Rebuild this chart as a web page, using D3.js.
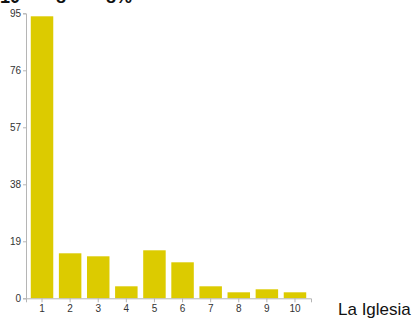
<!DOCTYPE html>
<html><head><meta charset="utf-8">
<script src="https://cdn.jsdelivr.net/npm/d3@7"></script>
<style>body{margin:0;background:#fff;} svg{display:block;}</style>
</head><body>
<script>
const categories = ["1","2","3","4","5","6","7","8","9","10"];
const values = [94, 15, 14, 4, 16, 12, 4, 2, 3, 2];
const yTicks = [0, 19, 38, 57, 76, 95];
const topTexts = [["10", 0], ["8", 56], ["8%", 106]];
const sideLabel = "La Iglesia";

const W = 417, H = 323;
const svg = d3.select("body").append("svg").attr("width", W).attr("height", H);

const x = d3.scaleBand().domain(categories).range([26, 311]).paddingInner(0.2).paddingOuter(0.17);
const y = d3.scaleLinear().domain([0, 95]).range([298.3, 13.3]);

// header text, cut off at the top edge as in the reference
svg.selectAll("text.top").data(topTexts).enter().append("text")
  .attr("x", d => d[1]).attr("y", 3)
  .style("font-family", "Liberation Sans, Arial, sans-serif")
  .style("font-size", "18px").style("font-weight", "bold").attr("fill", "#111")
  .text(d => d[0]);

svg.selectAll("rect.bar").data(values).enter().append("rect")
  .attr("x", (d, i) => x(categories[i]))
  .attr("y", d => y(d))
  .attr("width", x.bandwidth())
  .attr("height", d => y(0) - y(d))
  .attr("fill", "#dccb00");

const yAxis = svg.append("g").attr("transform", "translate(26,0)")
  .call(d3.axisLeft(y).tickValues(yTicks).tickSize(3).tickPadding(2));
const xAxis = svg.append("g").attr("transform", `translate(0,${y(0)})`)
  .call(d3.axisBottom(x).tickSize(4).tickPadding(3));

[yAxis, xAxis].forEach(g => {
  g.selectAll("path, line").attr("stroke", "#b5b5b5");
  g.selectAll("text").attr("fill", "#333")
    .style("font-family", "Liberation Sans, Arial, sans-serif").style("font-size", "10px");
});

svg.append("text").attr("x", 338).attr("y", 315)
  .style("font-family", "Liberation Sans, Arial, sans-serif").style("font-size", "17px")
  .attr("fill", "#111").text(sideLabel);
</script>
</body></html>
